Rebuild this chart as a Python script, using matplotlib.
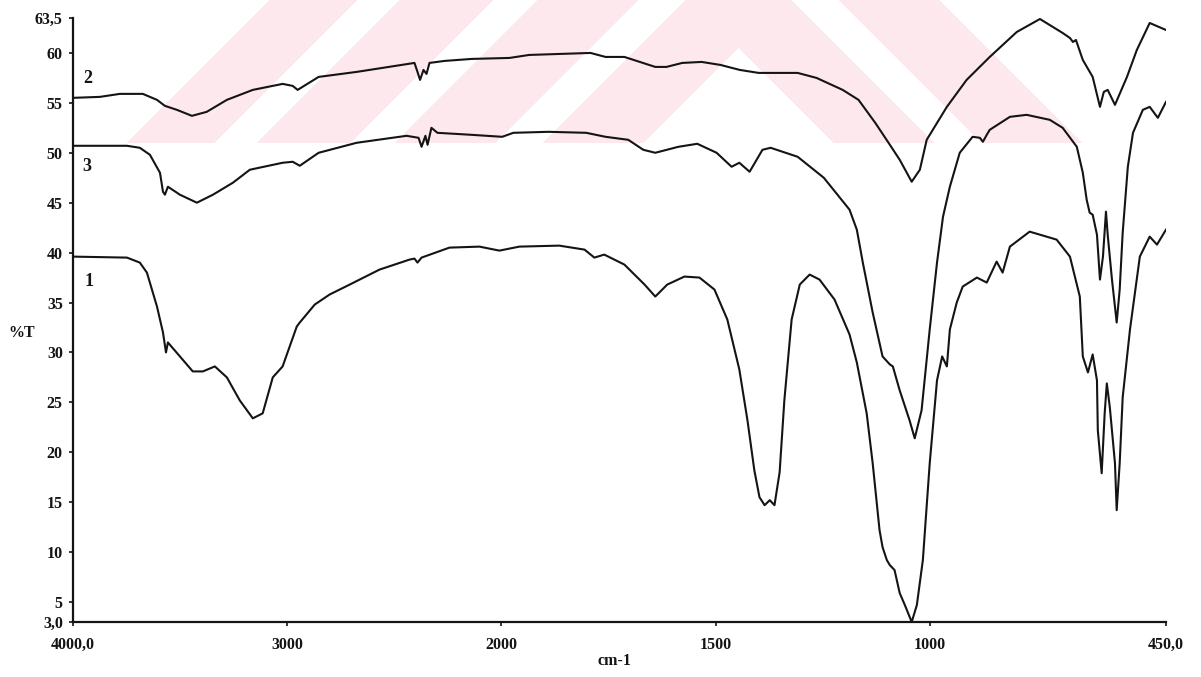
import numpy as np
import matplotlib
matplotlib.use("Agg")
from matplotlib import pyplot as plt

# IR spectra (%T vs wavenumber), three samples
wn_1 = [4000, 3746, 3686, 3653, 3606, 3578, 3564, 3555, 3499, 3439, 3392, 3336, 3280, 3220, 3159,
        3113, 3066, 3020, 2954, 2940, 2870, 2801, 2707, 2568, 2428, 2405, 2391, 2372, 2242, 2102,
        2009, 1958, 1865, 1806, 1783, 1760, 1713, 1666, 1641, 1613, 1573, 1538, 1503, 1473, 1445,
        1426, 1410, 1398, 1386, 1374, 1363, 1351, 1340, 1323, 1304, 1281, 1258, 1223, 1188, 1171,
        1148, 1134, 1118, 1111, 1101, 1094, 1083, 1071, 1059, 1043, 1031, 1017, 1001, 984, 972,
        961, 954, 938, 924, 891, 868, 845, 831, 814, 768, 705, 674, 651, 644, 632,
        621, 611, 609, 600, 593, 588, 581, 569, 565, 558, 551, 534, 511, 488, 471, 450]
t_1 = [39.6, 39.5, 39.0, 38.0, 34.6, 32.0, 30.0, 31.0, 29.6, 28.1, 28.1, 28.6, 27.5, 25.2, 23.4,
       23.9, 27.5, 28.6, 32.6, 33.0, 34.8, 35.8, 36.8, 38.3, 39.3, 39.4, 39.0, 39.5, 40.5, 40.6,
       40.2, 40.6, 40.7, 40.3, 39.5, 39.8, 38.8, 36.8, 35.6, 36.8, 37.6, 37.5, 36.3, 33.3, 28.3,
       23.2, 18.2, 15.5, 14.7, 15.2, 14.7, 18.0, 25.2, 33.3, 36.8, 37.8, 37.3, 35.3, 31.8, 29.0,
       23.9, 18.9, 12.2, 10.5, 9.2, 8.7, 8.2, 5.9, 4.7, 3.0, 4.7, 9.2, 18.9, 27.2, 29.6,
       28.6, 32.3, 35.0, 36.6, 37.5, 37.0, 39.1, 38.0, 40.6, 42.1, 41.3, 39.6, 35.6, 29.6, 28.0,
       29.8, 27.2, 22.2, 17.9, 23.9, 26.9, 24.5, 18.9, 14.2, 18.9, 25.5, 32.3, 39.6, 41.6, 40.8, 42.3]

wn_2 = [4000, 3872, 3779, 3672, 3606, 3569, 3513, 3443, 3374, 3280, 3159, 3020, 2973, 2950, 2852,
        2675, 2405, 2391, 2379, 2363, 2349, 2335, 2265, 2139, 1981, 1935, 1792, 1757, 1713, 1641,
        1615, 1578, 1533, 1489, 1444, 1400, 1309, 1265, 1204, 1167, 1128, 1097, 1071, 1043, 1024,
        1008, 961, 915, 861, 798, 744, 691, 674, 667, 660, 644, 621, 604, 595, 586,
        569, 541, 518, 488, 450]
t_2 = [55.5, 55.6, 55.9, 55.9, 55.3, 54.7, 54.3, 53.7, 54.1, 55.3, 56.3, 56.9, 56.7, 56.3, 57.6,
       58.1, 59.0, 58.1, 57.3, 58.3, 57.9, 59.0, 59.2, 59.4, 59.5, 59.8, 60.0, 59.6, 59.6, 58.6,
       58.6, 59.0, 59.1, 58.8, 58.3, 58.0, 58.0, 57.5, 56.3, 55.3, 53.0, 51.0, 49.3, 47.1, 48.3,
       51.3, 54.6, 57.3, 59.6, 62.1, 63.4, 62.0, 61.5, 61.1, 61.3, 59.3, 57.6, 54.6, 56.1, 56.3,
       54.8, 57.6, 60.3, 63.0, 62.3]

wn_3 = [4000, 3746, 3686, 3639, 3592, 3578, 3569, 3555, 3499, 3420, 3345, 3252, 3173, 3020, 2973,
        2940, 2852, 2675, 2442, 2386, 2372, 2354, 2344, 2326, 2298, 2140, 1998, 1972, 1890, 1802,
        1757, 1704, 1669, 1641, 1587, 1543, 1498, 1463, 1445, 1421, 1391, 1372, 1309, 1248, 1188,
        1171, 1157, 1134, 1111, 1094, 1087, 1071, 1048, 1036, 1020, 1001, 984, 970, 954, 931,
        901, 884, 877, 868, 861, 814, 775, 721, 691, 658, 644, 635, 628, 621, 611,
        604, 597, 590, 586, 576, 565, 558, 551, 539, 527, 504, 488, 469, 450]
t_3 = [50.7, 50.7, 50.5, 49.8, 48.0, 46.1, 45.8, 46.6, 45.8, 45.0, 45.8, 47.0, 48.3, 49.0, 49.1,
       48.7, 50.0, 51.0, 51.7, 51.5, 50.6, 51.7, 50.8, 52.5, 52.0, 51.8, 51.6, 52.0, 52.1, 52.0,
       51.6, 51.3, 50.3, 50.0, 50.6, 50.9, 50.0, 48.6, 49.0, 48.1, 50.3, 50.5, 49.6, 47.5, 44.3,
       42.3, 39.0, 34.0, 29.6, 28.8, 28.6, 26.2, 23.2, 21.4, 24.2, 32.3, 39.0, 43.6, 46.6, 50.0,
       51.6, 51.5, 51.1, 51.8, 52.3, 53.6, 53.8, 53.3, 52.5, 50.6, 48.0, 45.3, 44.0, 43.8, 41.8,
       37.3, 39.6, 44.1, 41.8, 37.3, 33.0, 36.3, 42.0, 48.6, 52.0, 54.3, 54.6, 53.5, 55.1]

x_ticks = [4000, 3000, 2000, 1500, 1000, 450]
x_labels = ["4000,0", "3000", "2000", "1500", "1000", "450,0"]
y_ticks = [3, 5, 10, 15, 20, 25, 30, 35, 40, 45, 50, 55, 60, 63.5]
y_labels = ["3,0", "5", "10", "15", "20", "25", "30", "35", "40", "45", "50", "55", "60", "63,5"]

# curve number labels (wavenumber, %T)
curve_tags = [("1", 3923, 37.1), ("2", 3928, 57.4), ("3", 3932, 48.6)]


# spectrometer chart: below 2000 cm-1 the scale is expanded two times
def fwd(w):
    w = np.asarray(w, dtype=float)
    return np.where(w >= 2000, w, 2 * w - 2000)


def inv(u):
    u = np.asarray(u, dtype=float)
    return np.where(u >= 2000, u, (u + 2000) / 2)


W, H = 1201, 677
fig = plt.figure(figsize=(W / 100, H / 100), dpi=100)
fig.patch.set_facecolor("white")

# pale pink chevron watermark across the top band
band_h = 143
yy, xx = np.mgrid[0:band_h, 0:W]
k = yy - np.abs(xx - 738)
mask = ((k > -54) & (k < 48)) | ((k > -202) & (k < -100))
mask |= (xx < 738) & (((k > -340) & (k < -245)) | ((k > -470) & (k < -381)))
wm = np.zeros((band_h, W, 4))
wm[..., 0] = 253 / 255
wm[..., 1] = 233 / 255
wm[..., 2] = 237 / 255
wm[..., 3] = mask.astype(float)
fig.figimage(wm, xo=0, yo=H - band_h, origin="upper", zorder=-1)

ax = fig.add_axes([72.5 / W, 55 / H, (1166 - 72.5) / W, (622 - 18) / H])
ax.set_facecolor("none")
ax.set_xscale("function", functions=(fwd, inv))

ink = "#141414"
for wn, t in [(wn_1, t_1), (wn_2, t_2), (wn_3, t_3)]:
    ax.plot(wn, t, color=ink, lw=1.5, solid_joinstyle="round")

for tag, w, t in curve_tags:
    ax.text(w, t, tag, fontsize=13, fontweight="bold", family="Liberation Serif",
            ha="center", va="center", color=ink)

ax.set_xlim(4000, 450)
ax.set_ylim(3, 63.5)
ax.set_xticks(x_ticks)
ax.set_xticklabels(x_labels)
ax.set_yticks(y_ticks)
ax.set_yticklabels(y_labels)
ax.xaxis.set_minor_locator(matplotlib.ticker.NullLocator())

for side in ["top", "right"]:
    ax.spines[side].set_visible(False)
for side in ["left", "bottom"]:
    ax.spines[side].set_linewidth(1.6)
    ax.spines[side].set_color(ink)

ax.tick_params(axis="both", direction="out", length=3, width=1.2, colors=ink)
ax.tick_params(axis="x", pad=8)
ax.tick_params(axis="y", pad=4)
for lab in ax.get_xticklabels() + ax.get_yticklabels():
    lab.set_family("Liberation Serif")
    lab.set_fontweight("bold")
    lab.set_fontsize(11.5)

fig.text(22 / W, 1 - 333 / H, "%T", fontsize=11.5, fontweight="bold", family="Liberation Serif",
         ha="center", va="center", color=ink)
fig.text(614 / W, 1 - 661 / H, "cm-1", fontsize=11.5, fontweight="bold", family="Liberation Serif",
         ha="center", va="center", color=ink)

fig.savefig("out.png", dpi=100)
